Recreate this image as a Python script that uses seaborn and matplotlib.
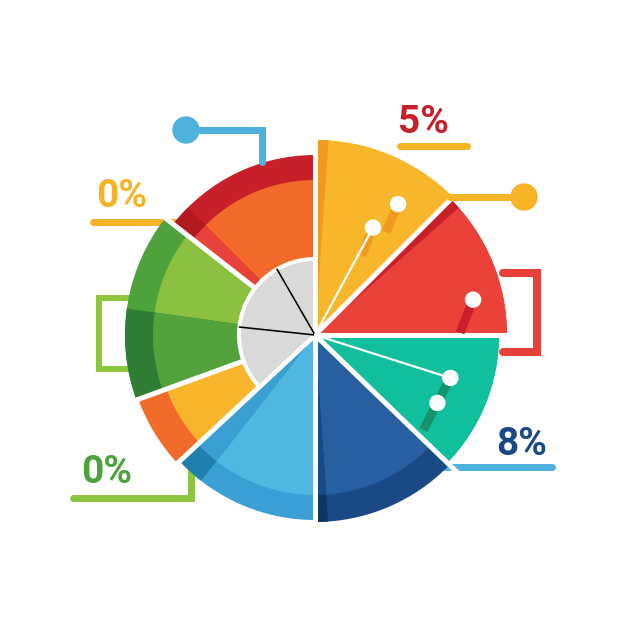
import matplotlib
matplotlib.use("Agg")
import matplotlib.pyplot as plt
import numpy as np
import seaborn as sns
from matplotlib.patches import Wedge, Circle

sns.set_style("white")
plt.rcParams['font.family'] = ['Roboto', 'DejaVu Sans']

# slices, clockwise from 12 o'clock
slices = ['yellow', 'red', 'teal', 'navy', 'sky', 'orange', 'green', 'crimson']
values = [45, 45, 44, 46, 47, 23, 58, 52]
radii = [195, 192, 184, 187, 185, 188, 190, 180]
rim = [0, 0, 0, 27, 25, 30, 28, 25]
main_colors = ['#f8b72a', '#ea4139', '#12bf9c', '#275fa0', '#4fb8e0', '#f8b52b', '#8cc13f', '#f26b2a']
rim_colors = ['#f8b72a', '#ea4139', '#12bf9c', '#1a4a85', '#3a9fd4', '#f26b29', '#4ea23c', '#c8202a']

# callout labels
labels = ['5%', '0%', '0%', '8%']
label_colors = ['#c8202a', '#f5b325', '#4ea23c', '#1a4a85']

W = H = 626
Y = lambda y: H - y
C = (315, Y(335))
PX = 0.72  # points per pixel

fig = plt.figure(figsize=(6.26, 6.26), dpi=100)
ax = fig.add_axes([0, 0, 1, 1])

# outer (rim) layer
wedges, _ = ax.pie(values, colors=rim_colors, startangle=90, counterclock=False,
                   center=C, radius=1, wedgeprops=dict(linewidth=0))
for w, r in zip(wedges, radii):
    w.set_radius(r)
# inner layer
inner, _ = ax.pie(values, colors=main_colors, startangle=90, counterclock=False,
                  center=C, radius=1, wedgeprops=dict(linewidth=0))
for w, r, b in zip(inner, radii, rim):
    w.set_radius(r - b)

k = 360 / sum(values)
cum = np.concatenate([[0], np.cumsum(values)]) * k
start = 90 - cum[:-1]
end = 90 - cum[1:]


def sub(i, a0, a1, r, color):
    # wedge inside slice i, a0/a1 measured clockwise from slice start in degrees
    ax.add_patch(Wedge(C, r, start[i] - a1, start[i] - a0, color=color, lw=0))


# darker strips along slice edges
sub(0, 0, 4, radii[0], '#f09a1f')
sub(1, 0, 3.5, radii[1], '#c8202a')
sub(3, values[3] * k - 4, values[3] * k, radii[3], '#0f3563')
sub(3, values[3] * k - 4, values[3] * k, radii[3] - rim[3], '#174a86')
sub(4, values[4] * k - 9, values[4] * k, radii[4], '#1f7fae')
sub(4, values[4] * k - 9, values[4] * k, radii[4] - rim[4], '#3aa0d4')
# green split
sub(6, 0, 28, radii[6], '#2e7d32')
sub(6, 0, 28, radii[6] - rim[6], '#52a33c')
sub(7, 0, 7, radii[7], '#b01a20')
sub(7, 0, 7, radii[7] - rim[7], '#e8413a')

# white separators
for a in start:
    t = np.deg2rad(a)
    ax.plot([C[0], C[0] + 200 * np.cos(t)], [C[1], C[1] + 200 * np.sin(t)],
            color='white', lw=5 * PX, solid_capstyle='butt')

# grey hub
ax.add_patch(Wedge(C, 76, 90, end[4], facecolor='#d9d9d9', edgecolor='white', lw=4 * PX, zorder=2.5))
for a in [120, 174]:
    t = np.deg2rad(a)
    ax.plot([C[0], C[0] + 76 * np.cos(t)], [C[1], C[1] + 76 * np.sin(t)],
            color='black', lw=1.6 * PX, zorder=2.6)

# dots inside slices: (slice, fraction of slice, radius, shadow dx, dy, shadow color, line to centre)
dots = [(0, 0.72, 155, -12, -28, '#f09a1f', False),
        (0, 0.63, 122, -11, -28, '#f09a1f', True),
        (1, 0.72, 162, -13, -33, '#c8202a', False),
        (2, 0.40, 142, -27, -52, '#17936a', True),
        (2, 0.66, 140, 0, 0, '#17936a', False)]
for i, f, r, sx, sy, sc, line in dots:
    t = np.deg2rad(start[i] - f * values[i] * k)
    x, y = C[0] + r * np.cos(t), C[1] + r * np.sin(t)
    if sx or sy:
        ax.plot([x, x + sx], [y, y + sy], color=sc, lw=9 * PX, solid_capstyle='butt', zorder=3)
    if line:
        ax.plot([C[0], x], [C[1], y], color='white', lw=2.2 * PX, zorder=3)
    ax.add_patch(Circle((x, y), 7.5, color='white', zorder=4))

# connectors
lw = 7 * PX
ax.plot([186, 262, 262], [Y(130), Y(130), Y(162)], color='#4db3de', lw=lw, solid_joinstyle='miter')
ax.add_patch(Circle((186, Y(130)), 13, color='#4db3de'))
ax.plot([450, 524], [Y(197), Y(197)], color='#f5b325', lw=lw)
ax.add_patch(Circle((524, Y(197)), 13, color='#f5b325'))
ax.plot([503, 537, 537, 503], [Y(273), Y(273), Y(352), Y(352)], color='#e8413a', lw=8 * PX,
        solid_joinstyle='miter', zorder=0)
ax.plot([132, 99, 99, 132], [Y(298), Y(298), Y(369), Y(369)], color='#8dc63f', lw=6 * PX,
        solid_joinstyle='miter', zorder=0)
ax.plot([400, 467], [Y(146), Y(146)], color='#f5b325', lw=lw)
ax.plot([93, 180], [Y(222), Y(222)], color='#f5b325', lw=lw, zorder=0)
ax.plot([73, 191, 191], [Y(498), Y(498), Y(470)], color='#8dc63f', lw=lw,
        solid_joinstyle='miter', zorder=0)
ax.plot([445, 552], [Y(467), Y(467)], color='#4db3de', lw=lw, zorder=0)

# labels
for (x, y), s, c in zip([(423, 133), (122, 207), (107, 483), (522, 455)], labels, label_colors):
    ax.text(x, Y(y), s, color=c, fontsize=28, fontweight='bold', ha='center', va='baseline')

ax.set_xlim(0, W)
ax.set_ylim(0, H)
ax.set_aspect('equal')
ax.axis('off')
fig.savefig('out.png', dpi=100, facecolor='white')
